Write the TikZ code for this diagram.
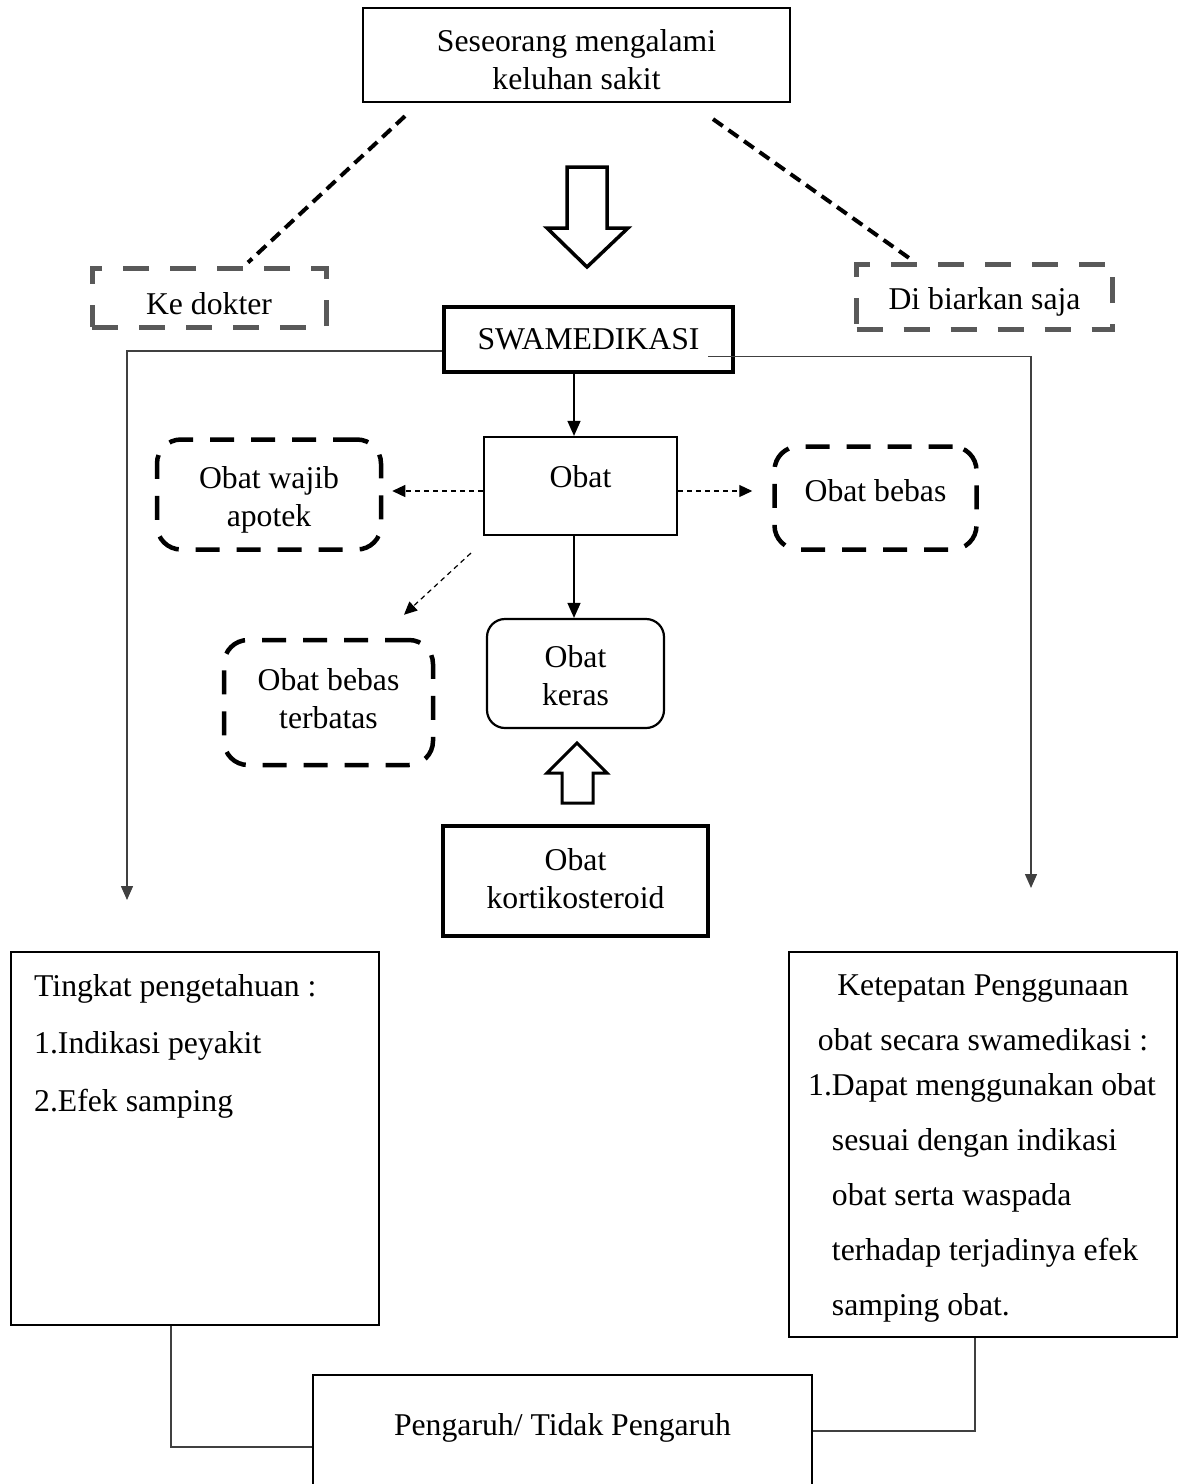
\documentclass[tikz,border=0pt]{standalone}
\usepackage{fontspec}
\setmainfont{Liberation Serif}
\usetikzlibrary{arrows.meta,calc}
\definecolor{dgray}{HTML}{595959}
\begin{document}
\begin{tikzpicture}[x=1pt,y=-1pt,
  font=\fontsize{31.7}{38}\selectfont,
  plainbox/.style={draw, line width=2.2pt, inner sep=0pt, align=center},
  thickbox/.style={draw, line width=4pt, inner sep=0pt, align=center},
  dbox/.style={draw, line width=4.5pt, rounded corners=24pt, dash pattern=on 24pt off 17pt, inner sep=0pt, align=center},
  gbox/.style={draw=dgray, line width=5pt, dash pattern=on 26pt off 21pt, inner sep=0pt, align=center},
  lbl/.style={align=center, inner sep=0pt, text=black},
  conn/.style={draw=black!75, line width=1.4pt, -{Triangle[length=14pt,width=12pt]}},
  sarr/.style={draw, line width=1.4pt, -{Triangle[length=15pt,width=13pt]}},
  darr/.style={draw, line width=1.2pt, dash pattern=on 5pt off 4pt, -{Triangle[length=13pt,width=12pt]}},
  tdash/.style={draw, line width=4pt, dash pattern=on 12pt off 7pt},
  hollow/.style={draw, line width=3.5pt, miter limit=10},
  link/.style={draw=black!75, line width=1.4pt}
]
\useasboundingbox (0,0) rectangle (1191,1484);

% nodes
\node[plainbox, minimum width=427pt, minimum height=94pt,
  label={[lbl, yshift=-5pt]center:Seseorang mengalami\\keluhan sakit}] (top) at (576.5,55) {};
\node[gbox, minimum width=234pt, minimum height=59pt,
  label={[lbl, yshift=-6pt]center:Ke dokter}] (kd) at (209,297.5) {};
\node[gbox, minimum width=256pt, minimum height=65pt,
  label={[lbl, yshift=-5pt]center:Di biarkan saja}] (db) at (984.5,296.5) {};
\node[thickbox, minimum width=289pt, minimum height=65pt] (swa) at (588.5,339.5) {SWAMEDIKASI};
\node[plainbox, minimum width=193pt, minimum height=98pt, text height=22pt, text depth=19pt] (obat) at (580.5,486) {Obat};
\node[dbox, minimum width=224pt, minimum height=110pt,
  label={[lbl, yshift=-5pt]center:Obat wajib\\apotek}] (owa) at (269,494.5) {};
\node[dbox, minimum width=202pt, minimum height=103pt,
  label={[lbl, yshift=7pt]center:Obat bebas}] (ob) at (875.5,498) {};
\node[dbox, minimum width=209pt, minimum height=125pt,
  label={[lbl, yshift=4pt]center:Obat bebas\\terbatas}] (obt) at (328.5,702.5) {};
\node[plainbox, rounded corners=18pt, minimum width=177pt, minimum height=109pt,
  label={[lbl, yshift=-2.5pt]center:Obat\\keras}] (ok) at (575.5,673.5) {};
\node[thickbox, minimum width=265pt, minimum height=110pt,
  label={[lbl, yshift=2.5pt]center:Obat\\kortikosteroid}] (kort) at (575.5,881) {};
\node[plainbox, minimum width=368pt, minimum height=373pt] (lbox) at (195,1138.5) {};
\node[plainbox, minimum width=388pt, minimum height=385pt] (rbox) at (983,1144.5) {};
\node[plainbox, minimum width=499pt, minimum height=130pt, text height=22pt, text depth=32pt] (res) at (562.5,1440) {Pengaruh/ Tidak Pengaruh};

% texts in the big boxes
\node[anchor=north west, inner sep=0pt, align=left, font=\fontsize{31.7}{57.5}\selectfont] (ltxt) at (34,974) {Tingkat pengetahuan :\\1.Indikasi peyakit\\2.Efek samping};
\node[anchor=north, inner sep=0pt, align=center, font=\fontsize{31.7}{55}\selectfont] (rtxt1) at (983,975) {Ketepatan Penggunaan\\obat secara swamedikasi :};
\node[anchor=north west, inner sep=0pt, align=left, font=\fontsize{31.7}{55}\selectfont] (rtxt2) at (808,1073) {1.Dapat menggunakan obat\\\phantom{1.}sesuai dengan indikasi\\\phantom{1.}obat serta waspada\\\phantom{1.}terhadap terjadinya efek\\\phantom{1.}samping obat.};

% free ends
\coordinate (la) at (127,900);
\coordinate (ra) at (1031,888);

% top dashed lines
\draw[tdash] ([xshift=-171.5pt,yshift=-13pt]top.south) -- ([xshift=39pt,yshift=3pt]kd.north);
\draw[tdash] ([xshift=136.5pt,yshift=-16pt]top.south) -- ([xshift=-70.5pt]db.north);

% hollow down arrow
\draw[hollow] (567,167) -- (607,167) -- (607,228) -- (628,228) -- (587,267) -- (547,228) -- (567,228) -- cycle;

% long connectors from SWAMEDIKASI
\draw[conn] ([yshift=-11.5pt]swa.west) -| (la);
\draw[conn] ([xshift=-27pt,yshift=-17pt]swa.east) -| (ra);

% solid arrows
\draw[sarr] ([xshift=-6.5pt]obat.north |- swa.south) -- ([xshift=-6.5pt]obat.north);
\draw[sarr] ([xshift=-6.5pt]obat.south) -- ([xshift=-6.5pt]obat.south |- ok.north);

% dashed arrows
\draw[darr, shorten >=9pt] ([yshift=-5pt]obat.west) -- ([yshift=-5pt]obat.west -| owa.east);
\draw[darr, shorten >=20pt] ([yshift=-5pt]obat.east) -- ([yshift=-5pt]obat.east -| ob.west);
\draw[darr] ([xshift=-12pt,yshift=-17pt]obat.south west) -- ([xshift=75.5pt,yshift=23pt]obt.north);

% hollow up arrow
\draw[hollow, line width=3pt] (577,743) -- (607,773) -- (593,773) -- (593,803) -- (562,803) -- (562,773) -- (547,773) -- cycle;

% bottom links
\draw[link] ([xshift=-24pt]lbox.south) |- ([yshift=-7pt]res.west);
\draw[link] ([xshift=-8pt]rbox.south) |- ([yshift=9pt]res.east);
\end{tikzpicture}
\end{document}
